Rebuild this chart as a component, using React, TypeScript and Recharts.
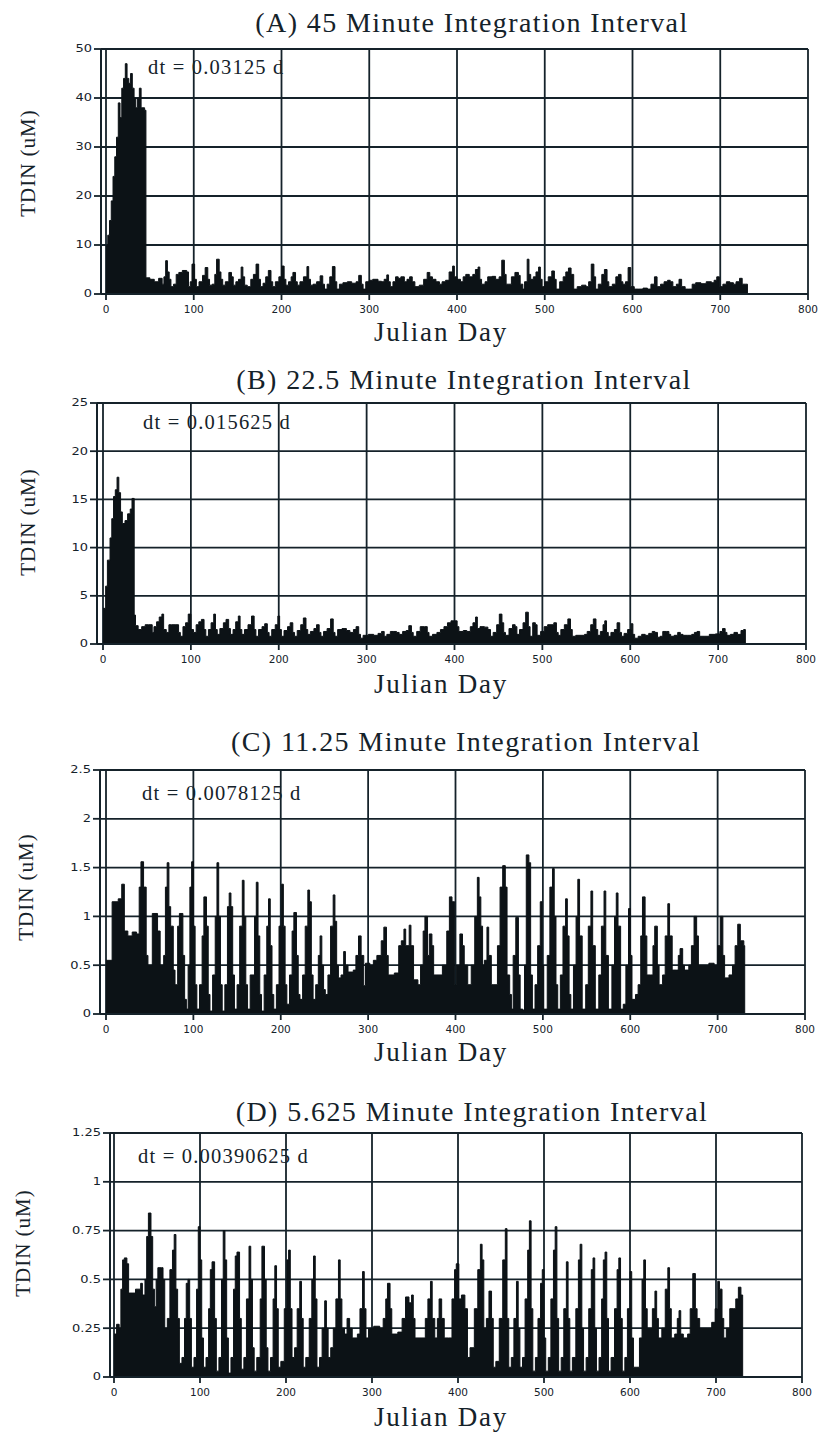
import React from "react";
import { AreaChart, Area, XAxis, YAxis, CartesianGrid } from "recharts";

// Julian day ticks shared by all four panels
const dayTicks = [0, 100, 200, 300, 400, 500, 600, 700, 800];

const ticksA = [0, 10, 20, 30, 40, 50];
const ticksB = [0, 5, 10, 15, 20, 25];
const ticksC = [0, 0.5, 1, 1.5, 2, 2.5];
const ticksD = [0, 0.25, 0.5, 0.75, 1, 1.25];

// [julian day, TDIN uM] (step series)
const pointsA: [number, number][] = [
  [0, 9.8], [2, 12], [4, 15], [6, 19], [8, 24], [10, 28], [12, 32], [14, 39], [16, 36], [18, 42],
  [20, 44], [22, 47], [24, 44], [26, 43], [28, 45], [30, 42], [32, 40], [34, 38], [36, 40], [38, 42],
  [40, 38], [44, 37.5], [45.5, 3.3], [50, 3], [55, 2.5], [60, 3.2], [64, 2], [66, 3.5], [68, 6.8], [70, 4.5],
  [72, 3], [74, 1.5], [77, 2], [80, 4], [83, 4.4], [87, 4.8], [92, 4.5], [94, 1.5], [96, 2.5], [98, 6.1],
  [101, 3], [103, 1.5], [106, 2.5], [110, 3.8], [113, 5.4], [116, 3], [118, 1.8], [121, 2], [124, 4], [126, 7.1],
  [129, 4.5], [131, 3], [133, 1.8], [136, 2.5], [140, 4.4], [143, 3.5], [145, 1.8], [148, 2.5], [151, 3], [154, 5.5],
  [156, 3.5], [158, 1.8], [161, 1.5], [165, 3], [168, 4], [171, 6.1], [174, 3], [176, 1.5], [179, 2.2], [182, 3.5],
  [185, 4.8], [188, 2.5], [190, 1.5], [193, 2.5], [197, 3.5], [200, 5.7], [203, 3], [205, 1.8], [208, 2.5], [211, 3.5],
  [213, 4.4], [216, 2.5], [218, 1.8], [221, 2.5], [225, 3.5], [229, 5.6], [231, 3], [233, 1.8], [236, 2], [240, 2.5],
  [244, 3.7], [247, 2], [249, 1], [252, 2], [255, 3.5], [258, 5.6], [261, 2.5], [263, 1], [266, 2], [270, 2.3],
  [275, 2.5], [280, 2.2], [285, 2.5], [288, 3.8], [291, 2], [293, 1], [296, 2.5], [300, 2.8], [304, 3], [310, 2.6],
  [314, 2.5], [317, 3], [320, 3.9], [322, 2.5], [324, 1.5], [327, 2.5], [330, 3.5], [333, 3.2], [336, 3.5], [340, 2.5],
  [343, 3], [346, 3.5], [349, 2.5], [352, 1.5], [357, 1.8], [362, 3], [366, 4.4], [369, 3.5], [372, 3], [376, 2.5],
  [380, 2], [383, 2.5], [387, 2.8], [391, 4.5], [395, 5.7], [397, 3.5], [400, 3], [404, 2.5], [407, 3.5], [410, 4],
  [414, 3.5], [418, 4], [421, 5], [424, 5.5], [426, 3], [428, 2], [432, 2.5], [435, 3.5], [440, 3.6], [444, 3],
  [448, 3.5], [451, 6.9], [454, 4], [456, 2], [459, 2], [462, 3.5], [466, 4.4], [470, 3.8], [472, 2], [475, 1],
  [477, 2.5], [480, 7.1], [482, 4], [484, 3], [487, 3.5], [490, 4.5], [493, 5.5], [495, 3], [497, 1.5], [500, 2.5],
  [504, 3.5], [508, 4.7], [511, 3], [513, 1], [517, 2.5], [521, 3.5], [524, 4.5], [527, 5.3], [530, 4], [533, 1],
  [537, 1.5], [542, 1.8], [547, 1.5], [550, 2.5], [553, 6.1], [556, 3.5], [558, 1], [561, 2], [565, 4], [568, 5],
  [571, 2.5], [573, 1.5], [577, 2], [581, 3.5], [584, 4], [587, 2.5], [589, 2], [592, 2.5], [595, 5.4], [598, 1.5],
  [602, 1], [607, 1], [612, 1.2], [617, 1], [621, 2], [625, 3.5], [628, 1.5], [632, 2], [636, 2.5], [640, 2.8],
  [643, 2.5], [646, 1.5], [650, 2], [653, 3], [656, 1.5], [660, 1], [664, 1], [668, 2], [672, 2.3], [678, 2.1],
  [684, 2.5], [690, 2.3], [693, 2.8], [696, 3.5], [699, 1.5], [703, 2], [707, 2.5], [711, 2.3], [715, 2], [718, 2.5],
  [722, 3.2], [725, 2], [729, 2], [731, 0], [800, 0],
];

const pointsB: [number, number][] = [
  [0, 3.7], [3, 6], [5, 8.7], [8, 11], [10, 13], [12, 15.3], [14, 16], [16, 17.3], [18, 15.7], [20, 13.7],
  [22, 12.5], [25, 12.8], [28, 13.5], [31, 14], [33, 15.1], [35.5, 3], [37, 1.9], [40, 1.5], [44, 1.8], [48, 2],
  [52, 2], [56, 1.2], [58, 1.8], [61, 2.3], [64, 2.8], [67, 3.1], [69, 1.5], [72, 1.2], [75, 2], [78, 2],
  [83, 2], [86, 1.2], [88, 0.8], [91, 1.8], [94, 2.2], [97, 3.1], [100, 1.5], [103, 1.2], [106, 2], [109, 2.3],
  [112, 2.55], [115, 1.5], [117, 0.8], [120, 1.5], [123, 2.2], [126, 3.1], [128, 1.5], [130, 1], [133, 1.6], [137, 2.2],
  [140, 2.55], [143, 1.6], [145, 1], [148, 1.5], [151, 2.3], [154, 2.9], [156, 1.5], [158, 1], [161, 1.5], [165, 2],
  [169, 2.9], [172, 1.5], [174, 0.8], [177, 1.5], [181, 1.8], [184, 2.1], [187, 1.2], [189, 0.8], [192, 1.5], [196, 2],
  [199, 2.9], [201, 1.5], [203, 0.8], [206, 1.4], [210, 1.8], [213, 2.2], [216, 1.2], [218, 0.8], [221, 1.4], [225, 2],
  [228, 2.7], [231, 1.5], [233, 1], [236, 1.3], [240, 1.6], [243, 2], [246, 1.2], [248, 0.8], [251, 1.3], [255, 1.6],
  [259, 2.6], [262, 1.2], [264, 0.8], [267, 1.5], [272, 1.6], [277, 1.4], [281, 1.2], [285, 1.5], [288, 1.8], [291, 1],
  [293, 0.6], [296, 0.9], [302, 1], [308, 0.9], [313, 1.1], [317, 1.3], [320, 0.8], [323, 1], [327, 1.3], [331, 1.3],
  [334, 1.2], [337, 1], [341, 1.3], [345, 1.4], [348, 1.9], [351, 1.2], [353, 0.8], [357, 1.3], [361, 1.8], [366, 1.8],
  [369, 1.2], [371, 0.8], [375, 1], [380, 1.2], [384, 1.5], [388, 1.8], [392, 2.2], [396, 2.4], [400, 2.4], [403, 1.8],
  [405, 1.3], [410, 1.4], [414, 1.3], [418, 1.8], [421, 2.2], [424, 2.8], [426, 1.6], [429, 1.8], [434, 1.75], [438, 1.5],
  [441, 0.8], [444, 1.2], [448, 2], [451, 3.1], [454, 2.2], [456, 1.2], [458, 0.9], [462, 1.6], [466, 2], [469, 1.8],
  [471, 1], [474, 1.5], [478, 2.2], [481, 3.3], [484, 1.8], [486, 0.8], [489, 2.2], [492, 2], [494, 0.9], [498, 1.3],
  [502, 1.8], [506, 2], [513, 2.2], [516, 1.2], [518, 0.9], [521, 1.5], [525, 2], [529, 2.6], [532, 1.5], [534, 0.8],
  [538, 0.9], [544, 0.9], [548, 1], [551, 1.3], [555, 2], [558, 2.6], [561, 1.5], [563, 0.9], [566, 1.3], [569, 2],
  [571, 2.4], [573, 1.2], [575, 0.8], [578, 1.2], [582, 1.5], [585, 2.2], [588, 1.2], [590, 0.8], [593, 1.1], [597, 1.5],
  [601, 2.1], [603, 1], [605, 0.6], [609, 0.8], [613, 1], [617, 0.9], [621, 1.1], [625, 1.3], [628, 1.2], [631, 0.7],
  [634, 0.8], [637, 1.3], [641, 1.3], [644, 1], [646, 0.8], [650, 0.9], [654, 1.2], [657, 1], [660, 0.9], [665, 0.9],
  [670, 1], [673, 1.2], [676, 1.3], [679, 0.8], [684, 0.8], [690, 1], [697, 1.05], [702, 1.3], [705, 1.6], [708, 1.2],
  [710, 0.9], [714, 1], [718, 1.2], [722, 1], [726, 1.4], [729, 1.5], [731, 0], [800, 0],
];

const pointsC: [number, number][] = [
  [0, 0.55], [7, 1.15], [14, 1.18], [18, 1.33], [21, 0.85], [25, 0.8], [30, 0.84], [35, 0.82], [38, 1.3], [40, 1.56],
  [43, 1.3], [46, 0.6], [48, 0.5], [53, 1.03], [59, 0.85], [62, 0.5], [66, 0.6], [68, 1.3], [70, 1.55], [72, 1.1],
  [74, 0.9], [77, 0.45], [79, 0.3], [82, 0.9], [84, 1.03], [88, 0.6], [90, 0.15], [92, 0.05], [94, 0.5], [96, 1.3],
  [98, 1.56], [100, 0.9], [102, 0.3], [104, 0.05], [107, 0.3], [110, 0.8], [112, 1.2], [115, 0.9], [117, 0.2], [119, 0.03],
  [122, 0.4], [125, 1.0], [127, 1.55], [129, 1.0], [131, 0.3], [133, 0.03], [136, 0.3], [139, 1.1], [141, 1.24], [143, 1.1],
  [145, 0.4], [147, 0.05], [150, 0.3], [153, 0.9], [156, 1.37], [158, 1.0], [160, 0.3], [162, 0.05], [165, 0.4], [170, 1.0],
  [172, 1.35], [174, 0.8], [176, 0.2], [178, 0.03], [181, 0.4], [184, 0.9], [186, 1.18], [188, 0.7], [190, 0.2], [192, 0.05],
  [195, 0.3], [198, 0.9], [201, 1.33], [203, 0.9], [205, 0.3], [207, 0.1], [210, 0.4], [213, 0.85], [215, 1.04], [218, 0.6],
  [220, 0.2], [222, 0.15], [225, 0.4], [228, 0.9], [231, 1.27], [233, 1.15], [235, 0.4], [237, 0.15], [240, 0.3], [243, 0.6],
  [245, 0.8], [247, 0.5], [249, 0.25], [251, 0.2], [254, 0.4], [257, 0.9], [260, 1.22], [262, 0.95], [264, 0.5], [266, 0.37],
  [269, 0.4], [272, 0.64], [274, 0.5], [277, 0.43], [283, 0.45], [286, 0.6], [289, 0.8], [292, 0.6], [295, 0.29], [297, 0.52],
  [302, 0.5], [306, 0.55], [310, 0.6], [315, 0.75], [318, 0.89], [321, 0.6], [323, 0.4], [330, 0.42], [335, 0.7], [338, 0.75],
  [341, 0.87], [343, 0.7], [347, 0.91], [349, 0.7], [352, 0.35], [357, 0.3], [360, 0.5], [363, 0.85], [365, 1.0], [368, 0.6],
  [370, 0.82], [373, 0.7], [375, 0.4], [385, 0.5], [390, 0.85], [393, 1.2], [396, 1.15], [399, 0.3], [401, 0.5], [405, 0.82],
  [408, 0.7], [410, 0.5], [414, 0.3], [418, 0.5], [422, 1.0], [425, 1.4], [427, 1.2], [429, 0.9], [431, 0.5], [433, 0.55],
  [436, 0.89], [438, 0.6], [441, 0.3], [444, 0.3], [448, 0.7], [451, 1.3], [454, 1.52], [457, 1.3], [459, 0.4], [462, 0.2],
  [464, 0.05], [466, 0.6], [469, 0.99], [472, 0.4], [474, 0.05], [477, 0.04], [479, 0.5], [481, 1.63], [484, 1.55], [486, 0.4],
  [488, 0.05], [491, 0.3], [494, 0.7], [497, 1.15], [499, 0.5], [501, 0.05], [503, 0.05], [505, 0.6], [508, 1.3], [511, 1.49],
  [513, 1.0], [515, 0.3], [517, 0.05], [520, 0.4], [523, 0.9], [526, 1.18], [528, 0.8], [530, 0.2], [532, 0.05], [535, 0.5],
  [538, 1.0], [540, 1.38], [542, 0.8], [545, 0.05], [549, 0.3], [552, 0.9], [555, 1.26], [557, 0.7], [560, 0.05], [564, 0.4],
  [567, 0.9], [570, 1.26], [572, 0.6], [575, 0.05], [579, 0.5], [582, 1.0], [584, 1.24], [586, 0.9], [589, 0.05], [592, 0.1],
  [595, 0.5], [598, 1.08], [600, 0.6], [602, 0.15], [606, 0.2], [609, 0.3], [612, 0.8], [614, 1.2], [617, 0.8], [619, 0.4],
  [623, 0.4], [626, 0.7], [628, 0.9], [631, 0.5], [633, 0.3], [637, 0.4], [640, 0.8], [643, 1.13], [645, 0.8], [648, 0.45],
  [653, 0.45], [655, 0.6], [657, 0.67], [660, 0.5], [662, 0.45], [667, 0.5], [670, 0.7], [673, 1.0], [676, 0.8], [678, 0.5],
  [690, 0.52], [696, 0.5], [700, 0.7], [703, 1.0], [706, 0.6], [708, 0.37], [713, 0.4], [717, 0.5], [720, 0.7], [723, 0.92],
  [726, 0.75], [730, 0.7], [731, 0], [800, 0],
];

const pointsD: [number, number][] = [
  [0, 0.22], [3, 0.27], [6, 0.25], [8, 0.45], [10, 0.6], [12, 0.61], [15, 0.58], [17, 0.43], [21, 0.43], [25, 0.45],
  [29, 0.45], [31, 0.48], [33, 0.42], [36, 0.5], [38, 0.72], [40, 0.84], [43, 0.72], [45, 0.45], [47, 0.36], [49, 0.5],
  [51, 0.56], [55, 0.56], [57, 0.5], [59, 0.25], [62, 0.3], [65, 0.55], [68, 0.65], [70, 0.73], [72, 0.45], [74, 0.3],
  [76, 0.07], [79, 0.1], [82, 0.3], [84, 0.48], [86, 0.5], [88, 0.3], [90, 0.05], [93, 0.1], [96, 0.45], [98, 0.77],
  [100, 0.6], [102, 0.2], [104, 0.05], [107, 0.1], [110, 0.35], [112, 0.55], [114, 0.59], [117, 0.3], [119, 0.03], [122, 0.1],
  [125, 0.5], [127, 0.75], [129, 0.6], [131, 0.2], [133, 0.02], [136, 0.1], [139, 0.45], [141, 0.62], [143, 0.64], [146, 0.3],
  [148, 0.04], [151, 0.1], [154, 0.4], [157, 0.67], [159, 0.5], [161, 0.15], [163, 0.03], [166, 0.1], [170, 0.4], [172, 0.67],
  [175, 0.5], [177, 0.15], [179, 0.03], [182, 0.1], [185, 0.4], [187, 0.57], [189, 0.35], [191, 0.05], [194, 0.08], [198, 0.35],
  [201, 0.6], [203, 0.65], [205, 0.35], [207, 0.1], [210, 0.15], [213, 0.35], [216, 0.49], [218, 0.3], [220, 0.05], [223, 0.1],
  [227, 0.3], [230, 0.5], [232, 0.62], [234, 0.4], [236, 0.05], [239, 0.1], [242, 0.25], [245, 0.39], [247, 0.25], [249, 0.1],
  [252, 0.15], [255, 0.25], [258, 0.4], [261, 0.6], [263, 0.4], [265, 0.25], [268, 0.22], [271, 0.3], [274, 0.25], [277, 0.2],
  [283, 0.22], [286, 0.35], [289, 0.54], [291, 0.35], [293, 0.2], [296, 0.25], [302, 0.26], [309, 0.25], [313, 0.3], [316, 0.4],
  [318, 0.48], [321, 0.35], [323, 0.22], [330, 0.23], [335, 0.3], [339, 0.41], [343, 0.38], [346, 0.42], [348, 0.3], [350, 0.2],
  [357, 0.2], [362, 0.3], [365, 0.4], [368, 0.49], [370, 0.3], [373, 0.2], [376, 0.3], [378, 0.4], [381, 0.3], [384, 0.2],
  [389, 0.2], [393, 0.4], [396, 0.55], [398, 0.58], [401, 0.4], [404, 0.42], [408, 0.35], [411, 0.1], [414, 0.15], [419, 0.35],
  [423, 0.55], [426, 0.68], [428, 0.6], [430, 0.25], [433, 0.3], [436, 0.44], [439, 0.3], [441, 0.05], [444, 0.08], [448, 0.3],
  [452, 0.6], [455, 0.76], [457, 0.3], [459, 0.05], [462, 0.1], [465, 0.3], [468, 0.49], [470, 0.25], [472, 0.05], [475, 0.1],
  [478, 0.4], [481, 0.65], [483, 0.8], [485, 0.35], [487, 0.03], [490, 0.1], [493, 0.3], [496, 0.48], [498, 0.55], [500, 0.2],
  [502, 0.03], [505, 0.1], [508, 0.4], [511, 0.65], [513, 0.77], [515, 0.3], [517, 0.03], [520, 0.1], [523, 0.35], [526, 0.59],
  [528, 0.3], [530, 0.03], [533, 0.1], [537, 0.35], [540, 0.6], [542, 0.68], [544, 0.25], [546, 0.03], [549, 0.1], [552, 0.35],
  [555, 0.55], [557, 0.61], [559, 0.25], [561, 0.03], [564, 0.1], [567, 0.4], [569, 0.6], [571, 0.64], [573, 0.3], [575, 0.03],
  [578, 0.1], [582, 0.35], [585, 0.55], [587, 0.61], [589, 0.3], [591, 0.03], [594, 0.1], [597, 0.35], [600, 0.54], [602, 0.2],
  [604, 0.05], [608, 0.05], [611, 0.2], [614, 0.5], [616, 0.6], [618, 0.35], [620, 0.25], [623, 0.25], [626, 0.35], [629, 0.44],
  [631, 0.3], [633, 0.2], [637, 0.25], [641, 0.45], [644, 0.56], [646, 0.35], [648, 0.2], [652, 0.22], [655, 0.3], [657, 0.34],
  [659, 0.22], [662, 0.2], [667, 0.22], [670, 0.35], [673, 0.53], [676, 0.35], [678, 0.3], [681, 0.25], [690, 0.25], [695, 0.28],
  [699, 0.35], [702, 0.49], [704, 0.45], [707, 0.3], [709, 0.2], [712, 0.25], [716, 0.35], [720, 0.35], [723, 0.4], [726, 0.46],
  [729, 0.42], [731, 0], [800, 0],
];

const INK = "#15222a";
const SERIF = "'Liberation Serif', 'Times New Roman', serif";
const SANS = "'DejaVu Sans', sans-serif";

// y tick labels in the scan are a wide, extended sans
function YTick({ x, y, payload }: any) {
  return (
    <text
      x={x}
      y={y}
      dy={3.5}
      textAnchor="end"
      fontFamily={SANS}
      fontSize={10}
      fill={INK}
      transform={`translate(${x},0) scale(1.3,1) translate(${-x},0)`}
    >
      {payload.value}
    </text>
  );
}

interface PanelProps {
  points: [number, number][];
  yTicks: number[];
  plotTop: number;
  plotBottom: number;
  axisX: number;
  zeroX: number;
  plotRight: number;
  title: string;
  titleY: number;
  titleX: number;
  note: string;
  noteX: number;
  noteY: number;
  yLabelX: number;
  yLabelY: number;
  xLabelY: number;
}

function Panel(p: PanelProps) {
  const rows = p.points.map(([day, v]) => ({ day, v }));
  const top = p.plotTop - 10;
  const h = p.plotBottom - p.plotTop + 10 + 30;
  return (
    <>
      <div
        style={{
          position: "absolute",
          left: p.titleX,
          top: p.titleY - 14,
          transform: "translateX(-50%)",
          whiteSpace: "nowrap",
          fontFamily: SERIF,
          fontSize: 28,
          lineHeight: "28px",
          letterSpacing: 1.4,
          color: INK,
        }}
      >
        {p.title}
      </div>
      <div style={{ position: "absolute", left: 0, top }}>
        <AreaChart
          width={820}
          height={h}
          data={rows}
          margin={{ top: 10, right: 820 - p.plotRight, bottom: 0, left: 0 }}
        >
          <CartesianGrid stroke={INK} strokeWidth={1.8} />
          <XAxis
            type="number"
            dataKey="day"
            domain={[0, 800]}
            ticks={dayTicks}
            interval={0}
            padding={{ left: p.zeroX - p.axisX, right: 0 }}
            height={30}
            tickSize={6}
            tickMargin={6}
            tick={{ fontFamily: SANS, fontSize: 10.5, fill: INK }}
            axisLine={{ stroke: INK, strokeWidth: 2 }}
            tickLine={{ stroke: INK, strokeWidth: 1.8 }}
          />
          <YAxis
            type="number"
            domain={[0, p.yTicks[p.yTicks.length - 1]]}
            ticks={p.yTicks}
            interval={0}
            width={p.axisX}
            tickSize={7}
            tick={<YTick />}
            axisLine={{ stroke: INK, strokeWidth: 2 }}
            tickLine={{ stroke: INK, strokeWidth: 1.8 }}
          />
          <Area
            type="stepAfter"
            dataKey="v"
            stroke="#0c1216"
            strokeWidth={1}
            fill="#0c1216"
            fillOpacity={1}
            dot={false}
            activeDot={false}
            isAnimationActive={false}
          />
        </AreaChart>
      </div>
      <div
        style={{
          position: "absolute",
          left: p.noteX,
          top: p.noteY - 10,
          whiteSpace: "nowrap",
          fontFamily: SERIF,
          fontSize: 20.5,
          lineHeight: "20px",
          letterSpacing: 1.2,
          color: INK,
        }}
      >
        {p.note}
      </div>
      <div
        style={{
          position: "absolute",
          left: p.yLabelX,
          top: p.yLabelY,
          transform: "translate(-50%, -50%) rotate(-90deg)",
          whiteSpace: "nowrap",
          fontFamily: SERIF,
          fontSize: 21,
          lineHeight: "21px",
          letterSpacing: 1,
          color: INK,
        }}
      >
        TDIN (uM)
      </div>
      <div
        style={{
          position: "absolute",
          left: 441,
          top: p.xLabelY - 14,
          transform: "translateX(-50%)",
          whiteSpace: "nowrap",
          fontFamily: SERIF,
          fontSize: 27,
          lineHeight: "27px",
          letterSpacing: 1.8,
          color: INK,
        }}
      >
        Julian Day
      </div>
    </>
  );
}

export default function App() {
  return (
    <div
      style={{
        position: "absolute",
        left: 0,
        top: 0,
        width: 820,
        height: 1434,
        background: "#fff",
        overflow: "hidden",
      }}
    >
      <Panel
        points={pointsA}
        yTicks={ticksA}
        plotTop={49}
        plotBottom={294}
        axisX={101}
        zeroX={106}
        plotRight={808}
        title="(A) 45 Minute Integration Interval"
        titleX={472}
        titleY={23}
        note="dt = 0.03125 d"
        noteX={148}
        noteY={67}
        yLabelX={28}
        yLabelY={163}
        xLabelY={333}
      />
      <Panel
        points={pointsB}
        yTicks={ticksB}
        plotTop={403}
        plotBottom={644}
        axisX={97}
        zeroX={103}
        plotRight={806}
        title="(B) 22.5 Minute Integration Interval"
        titleX={464}
        titleY={380}
        note="dt = 0.015625 d"
        noteX={143}
        noteY={422}
        yLabelX={28}
        yLabelY={522}
        xLabelY={685}
      />
      <Panel
        points={pointsC}
        yTicks={ticksC}
        plotTop={770}
        plotBottom={1014}
        axisX={100}
        zeroX={106}
        plotRight={805}
        title="(C) 11.25 Minute Integration Interval"
        titleX={466}
        titleY={742}
        note="dt = 0.0078125 d"
        noteX={142}
        noteY={793}
        yLabelX={26}
        yLabelY={887}
        xLabelY={1053}
      />
      <Panel
        points={pointsD}
        yTicks={ticksD}
        plotTop={1133}
        plotBottom={1377}
        axisX={110}
        zeroX={114}
        plotRight={802}
        title="(D) 5.625 Minute Integration Interval"
        titleX={472}
        titleY={1112}
        note="dt = 0.00390625 d"
        noteX={138}
        noteY={1156}
        yLabelX={23}
        yLabelY={1243}
        xLabelY={1418}
      />
    </div>
  );
}
